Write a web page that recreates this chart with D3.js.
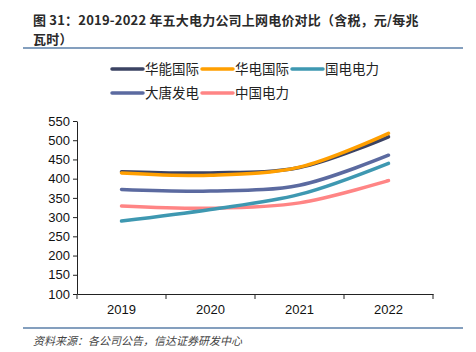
<!DOCTYPE html>
<html><head><meta charset="utf-8">
<script src="https://cdn.jsdelivr.net/npm/d3@7"></script>
<style>body{margin:0;background:#fff}svg{display:block}</style>
</head><body>
<svg id="c" width="476" height="352"></svg>
<script>
const categories = ["2019", "2020", "2021", "2022"];
const seriesNames = ["华能国际", "华电国际", "国电电力", "大唐发电", "中国电力"];
const huaneng = [418, 415, 429, 509];
const huadian = [415, 409, 430, 518];
const guodian = [290, 320, 359, 440];
const datang = [372, 368, 383, 461];
const zhongguo = [329, 323, 337, 395];
const yTicks = [100, 150, 200, 250, 300, 350, 400, 450, 500, 550];
const colors = ["#3b4363", "#ff9f00", "#3e98b1", "#5b6aa0", "#ff8585"];

const series = [huaneng, huadian, guodian, datang, zhongguo];
const drawOrder = [4, 2, 3, 0, 1];

const svg = d3.select("#c");
const cjk = "'Noto Sans CJK SC', sans-serif";

// title
svg.append("text").attr("x", 33).attr("y", 24.5).attr("font-family", cjk).attr("font-weight", "bold")
  .attr("font-size", 13).attr("letter-spacing", 0.2).attr("fill", "#2a2a2a")
  .text("图 31：2019-2022 年五大电力公司上网电价对比（含税，元/每兆");
svg.append("text").attr("x", 33).attr("y", 44).attr("font-family", cjk).attr("font-weight", "bold")
  .attr("font-size", 13).attr("letter-spacing", 0.2).attr("fill", "#2a2a2a").text("瓦时）");
svg.append("line").attr("x1", 23).attr("x2", 463).attr("y1", 48).attr("y2", 48)
  .attr("stroke", "#5b7fa8").attr("stroke-width", 1.5);

const x = d3.scaleBand().domain(categories).range([77, 433]);
const y = d3.scaleLinear().domain([100, 550]).range([294, 121]);

const axisFont = "'Liberation Sans', Arial, sans-serif";
const ya = svg.append("g").attr("transform", "translate(77,0)")
  .call(d3.axisLeft(y).tickValues(yTicks).tickSize(4).tickSizeOuter(0));
ya.select(".domain").attr("stroke", "#222");
ya.selectAll(".tick line").attr("stroke", "#222");
ya.selectAll("text").attr("font-family", axisFont).attr("font-size", 13).attr("fill", "#111").attr("x", -7);

const xa = svg.append("g").attr("transform", "translate(0,294)")
  .call(d3.axisBottom(x).tickSize(0).tickSizeOuter(0));
xa.select(".domain").attr("stroke", "#222");
xa.selectAll("text").attr("font-family", axisFont).attr("font-size", 13).attr("fill", "#111").attr("dy", "1.05em").attr("y", 6);
// boundary ticks
const bounds = [...categories.map(c => x(c)), x.range()[1]];
svg.append("g").selectAll("line").data(bounds).join("line")
  .attr("x1", d => d).attr("x2", d => d).attr("y1", 294).attr("y2", 299)
  .attr("stroke", "#222");

const line = d3.line()
  .x((d, i) => x(categories[i]) + x.bandwidth() / 2)
  .y(d => y(d))
  .curve(d3.curveCatmullRom.alpha(0.5));

svg.append("g").selectAll("path").data(drawOrder).join("path")
  .attr("d", i => line(series[i]))
  .attr("fill", "none").attr("stroke", i => colors[i])
  .attr("stroke-width", 3.5).attr("stroke-linecap", "round");

// legend
const legendPos = [[112, 69], [202, 69], [292, 69], [112, 93], [202, 93]];
const lg = svg.append("g").selectAll("g").data(seriesNames).join("g")
  .attr("transform", (d, i) => `translate(${legendPos[i][0]},${legendPos[i][1]})`);
lg.append("line").attr("x1", 0).attr("x2", 31).attr("stroke", (d, i) => colors[i])
  .attr("stroke-width", 3.5).attr("stroke-linecap", "round");
lg.append("text").attr("x", 33).attr("dy", "0.35em").attr("font-family", cjk)
  .attr("font-size", 13.5).attr("fill", "#222").text(d => d);

// footer
svg.append("line").attr("x1", 23).attr("x2", 463).attr("y1", 328).attr("y2", 328)
  .attr("stroke", "#5b7fa8").attr("stroke-width", 1.5);
svg.append("text").attr("x", 33).attr("y", 345).attr("font-family", cjk).attr("font-style", "italic")
  .attr("font-size", 11).attr("fill", "#444").text("资料来源：各公司公告，信达证券研发中心");
</script>
</body></html>
